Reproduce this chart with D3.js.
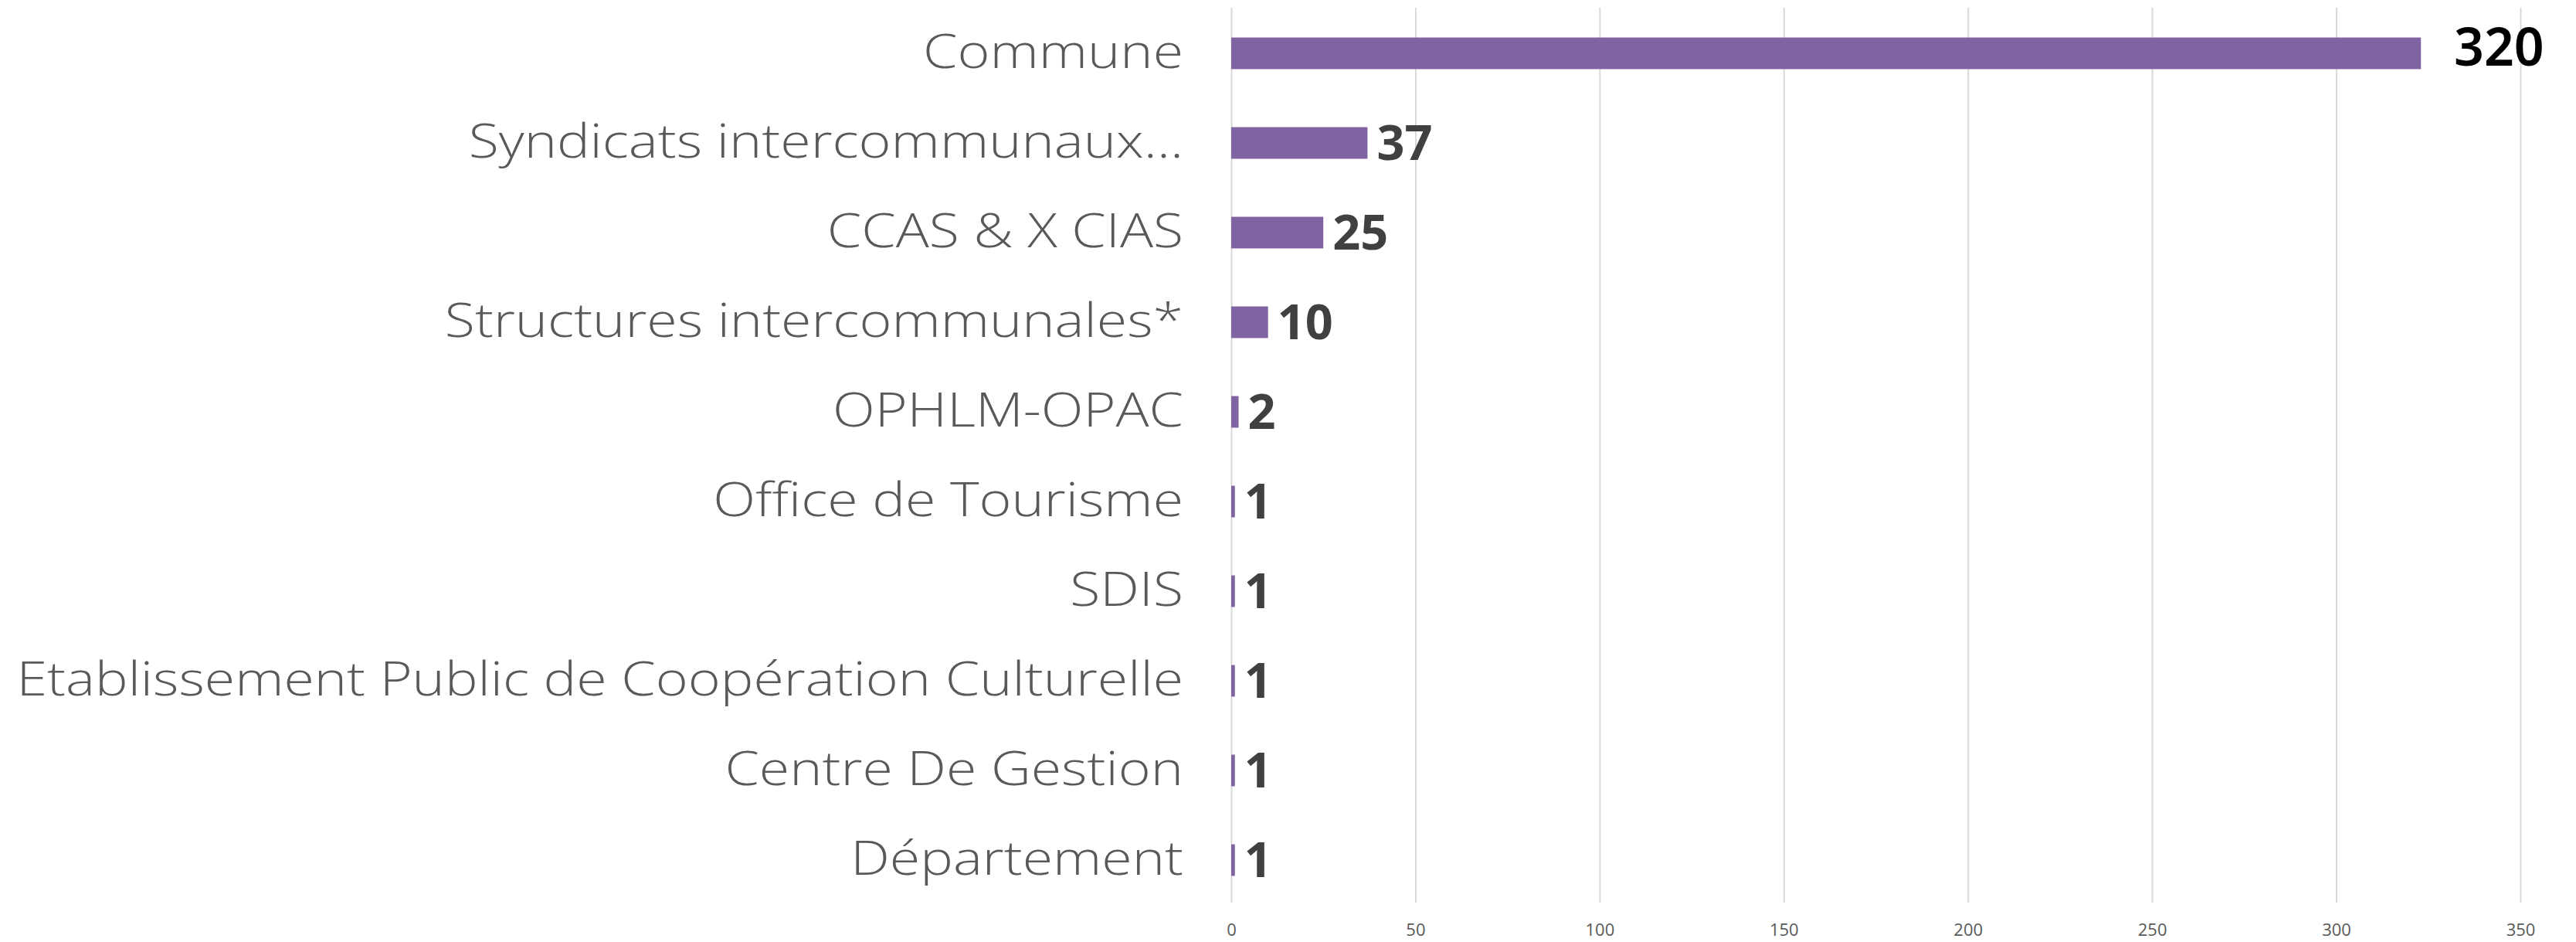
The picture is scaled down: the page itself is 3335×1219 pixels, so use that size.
<!DOCTYPE html>
<html lang="fr">
<head>
<meta charset="utf-8">
<title>Employeurs</title>
<script src="https://d3js.org/d3.v7.min.js"></script>
<style>
html, body { margin: 0; padding: 0; background: #fff; }
svg { display: block; }
.grid line { stroke: #d9d9d9; stroke-width: 2; }
.grid path { stroke: none; }
.grid text { font-family: "Open Sans", sans-serif; font-size: 22px; fill: #595959; }
.cat { font-family: "Open Sans", sans-serif; font-weight: 300; font-size: 60px; fill: #595959; }
.val { font-family: "Open Sans", sans-serif; font-weight: 700; font-size: 63px; fill: #404040; }
.val.first { font-family: "Noto Sans", sans-serif; font-weight: 600; font-size: 68px; fill: #000; }
</style>
</head>
<body>
<script>
var categories = ["Commune", "Syndicats intercommunaux…", "CCAS & X CIAS", "Structures intercommunales*",
  "OPHLM-OPAC", "Office de Tourisme", "SDIS", "Etablissement Public de Coopération Culturelle",
  "Centre De Gestion", "Département"]
// bar lengths as drawn (the first bar runs a little past 320 in the picture)
var values = [323, 37, 25, 10, 2, 1, 1, 1, 1, 1]
// the labels printed next to the bars
var valueLabels = ["320", "37", "25", "10", "2", "1", "1", "1", "1", "1"]
var xTicks = [0, 50, 100, 150, 200, 250, 300, 350]

var width = 3335, height = 1219
var plotLeft = 1594, plotRight = 3263, plotTop = 11, plotBottom = 1171

var svg = d3.select("body").append("svg")
  .attr("width", width)
  .attr("height", height)

var x = d3.scaleLinear().domain([0, 350]).range([plotLeft, plotRight])
var y = d3.scaleBand().domain(categories).range([plotTop, plotBottom])
  .paddingInner(0.647).paddingOuter(0.3235)

// vertical grid lines + tick labels
var grid = svg.append("g")
  .attr("class", "grid")
  .attr("transform", "translate(0," + (plotBottom - 3) + ")")
  .call(d3.axisBottom(x).tickValues(xTicks).tickSize(-(plotBottom - 3 - 10)).tickPadding(27))
grid.select(".domain").remove()

svg.append("g")
  .selectAll("rect")
  .data(values)
  .enter()
  .append("rect")
  .attr("x", x(0))
  .attr("y", function(d, i) { return y(categories[i]) })
  .attr("width", function(d) { return x(d) - x(0) })
  .attr("height", y.bandwidth())
  .attr("fill", "#8064a2")

// category labels, stretched a bit to match the wide original face
var catG = svg.append("g")
var cats = catG.selectAll("text")
  .data(categories)
  .enter()
  .append("text")
  .attr("class", "cat")
  .attr("text-anchor", "end")
  .attr("x", 0)
  .attr("y", function(d) { return y(d) + y.bandwidth() / 2 + 19 })
  .text(function(d) { return d })

var longest = d3.max(cats.nodes(), function(n) { return n.getComputedTextLength() })
var sx = 1511 / longest
catG.attr("transform", "translate(1532,0) scale(" + sx + ",1)")

svg.append("g")
  .selectAll("text")
  .data(values)
  .enter()
  .append("text")
  .attr("class", function(d, i) { return i === 0 ? "val first" : "val" })
  .attr("x", function(d, i) { return i === 0 ? 3177 : x(d) + 12 })
  .attr("y", function(d, i) { return y(categories[i]) + y.bandwidth() / 2 + (i === 0 ? 16 : 22) })
  .text(function(d, i) { return valueLabels[i] })
</script>
</body>
</html>
